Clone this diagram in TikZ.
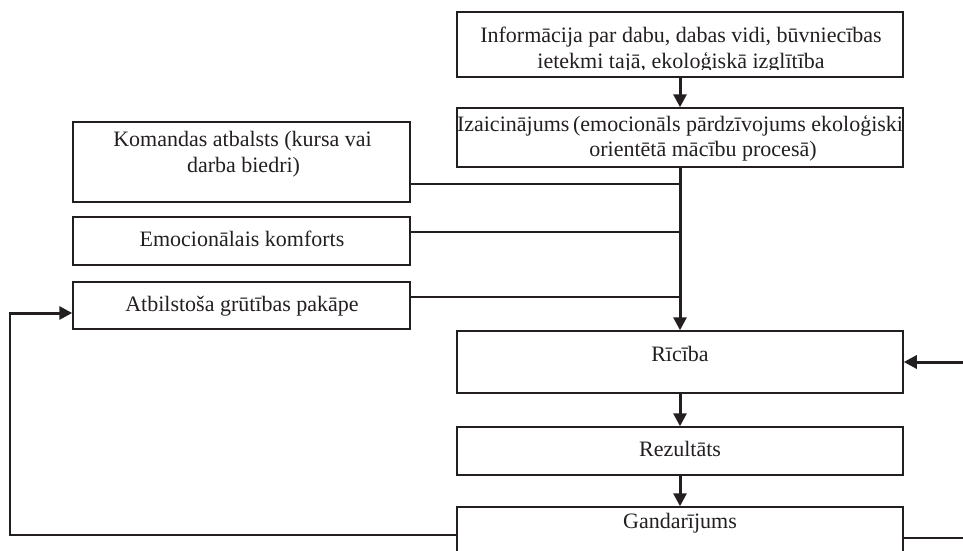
\documentclass[tikz,border=0pt]{standalone}
\usepackage{fontspec}
\setmainfont{Liberation Serif}
\usetikzlibrary{arrows.meta}
\definecolor{ink}{HTML}{231F20}
\begin{document}
\begin{tikzpicture}[x=1pt,y=-1pt,
  box/.style={draw=ink, line width=1.5pt, inner sep=0pt},
  txt/.style={font=\fontsize{22}{25}\selectfont, text=ink, inner sep=0pt, anchor=base},
  arr/.style={draw=ink, line width=3pt, -{Triangle[length=13pt,width=13pt]}},
  link/.style={draw=ink, line width=1.4pt}]
\clip (0,0) rectangle (963,551);

% main column of boxes
\node[box, minimum width=446pt, minimum height=65pt] (info) at (680,44.5) {};
\node[box, minimum width=446pt, minimum height=59pt] (izai) at (680,137.5) {};
\node[box, minimum width=446pt, minimum height=62pt] (ric)  at (680,362) {};
\node[box, minimum width=446pt, minimum height=48pt] (rez)  at (680,451) {};
\node[box, minimum width=446pt, minimum height=56pt] (gan)  at (680,535) {};

% conditions on the left
\node[box, minimum width=337pt, minimum height=80pt] (kom) at (241.5,162) {};
\node[box, minimum width=337pt, minimum height=48pt] (emo) at (241.5,241) {};
\node[box, minimum width=337pt, minimum height=47pt] (atb) at (241.5,305.5) {};

% texts
\begin{scope}
  \clip (457,12) rectangle (903,69.5);
  \node[txt] (info1) at (681,43) {Informācija par dabu, dabas vidi, būvniecības};
  \node[txt] (info2) at (681,68) {ietekmi tajā, ekoloģiskā izglītība};
\end{scope}
\node[txt] (izai1) at (680,131.7) {Izaicinājums\,(emocionāls pārdzīvojums ekoloģiski};
\node[txt] (izai2) at (703,156.7) {orientētā mācību procesā)};
\node[txt] (kom1) at (242.5,146.7) {Komandas atbalsts (kursa vai};
\node[txt] (kom2) at (243.5,172.5) {darba biedri)};
\node[txt] (emo1) at (242,246.7) {Emocionālais komforts};
\node[txt] (atb1) at (242,311.7) {Atbilstoša grūtības pakāpe};
\node[txt] (ric1) at (680,361.7) {Rīcība};
\node[txt] (rez1) at (680,456.7) {Rezultāts};
\node[txt] (gan1) at (680,528) {Gandarījums};

% junction points
\coordinate (j1) at (680,184);
\coordinate (j2) at (680,232);
\coordinate (j3) at (680,297);
\coordinate (rin) at (963,362);
\coordinate (rout) at (963,538);
\coordinate (fb1) at (10,535);
\coordinate (fb2) at (10,313);

% main flow
\draw[arr] (info.south) -- (izai.north);
\draw[arr] (izai.south) -- (ric.north);
\draw[arr] (ric.south) -- (rez.north);
\draw[arr] (rez.south) -- (gan.north);
\draw[arr] (rin) -- (ric.east |- rin);

% side conditions joining the trunk
\draw[link] (kom.east |- j1) -- (j1);
\draw[link] (emo.east |- j2) -- (j2);
\draw[link] (atb.east |- j3) -- (j3);

% feedback loops
\draw[link] (gan.west |- fb1) -- (fb1) -- (fb2);
\draw[arr] ([xshift=-0.7pt]fb2) -- (atb.west |- fb2);
\draw[link] (gan.east |- rout) -- (rout);
\end{tikzpicture}
\end{document}
